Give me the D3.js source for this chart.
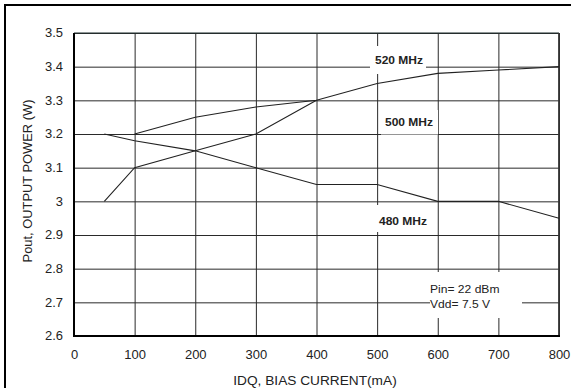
<!DOCTYPE html>
<html>
<head>
<meta charset="utf-8">
<script src="https://cdn.jsdelivr.net/npm/d3@7"></script>
<style>
  html, body { margin: 0; padding: 0; background: #fff; }
  svg { display: block; font-family: "Liberation Sans", Arial, sans-serif; }
</style>
</head>
<body>
<svg id="chart" width="571" height="388"></svg>
<script>
// Bias current (mA) and output power (W) for each frequency curve
const idq520 = [100, 200, 300, 400, 500, 600, 700, 800];
const pout520 = [3.2, 3.25, 3.28, 3.3, 3.35, 3.38, 3.39, 3.4];
const idq500 = [50, 100, 200, 300, 400];
const pout500 = [3.0, 3.1, 3.15, 3.2, 3.3];
const idq480 = [50, 100, 200, 300, 400, 500, 600, 700, 800];
const pout480 = [3.2, 3.18, 3.15, 3.1, 3.05, 3.05, 3.0, 3.0, 2.95];

const xTicks = [0, 100, 200, 300, 400, 500, 600, 700, 800];
const yTicks = [2.6, 2.7, 2.8, 2.9, 3.0, 3.1, 3.2, 3.3, 3.4, 3.5];
const curveLabels = ["520 MHz", "500 MHz", "480 MHz"];
const conditionLabels = ["Pin= 22 dBm", "Vdd= 7.5 V"];
const xTitle = "IDQ, BIAS CURRENT(mA)";
const yTitle = "Pout, OUTPUT POWER (W)";

const svg = d3.select("#chart");
const plot = { left: 74, right: 559, top: 33, bottom: 336 };

const x = d3.scaleLinear().domain([0, 800]).range([plot.left, plot.right]);
const y = d3.scaleLinear().domain([2.6, 3.5]).range([plot.bottom, plot.top]);

// widen glyphs horizontally, like the printed datasheet lettering
function stretch(sel, f) {
  sel.each(function () {
    const w = this.getComputedTextLength();
    this.setAttribute("textLength", w * f);
    this.setAttribute("lengthAdjust", "spacingAndGlyphs");
  });
}

// outer page frame (top and left edges)
svg.append("line").attr("x1", 4).attr("x2", 571).attr("y1", 5).attr("y2", 5)
  .attr("stroke", "#000").attr("stroke-width", 2);
svg.append("line").attr("x1", 5).attr("x2", 5).attr("y1", 4).attr("y2", 388)
  .attr("stroke", "#000").attr("stroke-width", 2);

// grid
const grid = svg.append("g");
grid.append("g").attr("transform", `translate(${plot.left},0)`)
  .call(d3.axisLeft(y).tickValues(yTicks).tickSize(-(plot.right - plot.left)).tickFormat(""))
  .call(g => g.select(".domain").remove())
  .call(g => g.selectAll("line").attr("stroke", "#2a2a2a").attr("stroke-width", 1));
grid.append("g").attr("transform", `translate(0,${plot.bottom})`)
  .call(d3.axisBottom(x).tickValues(xTicks).tickSize(-(plot.bottom - plot.top)).tickFormat(""))
  .call(g => g.select(".domain").remove())
  .call(g => g.selectAll("line").attr("stroke", "#2a2a2a").attr("stroke-width", 1));

// white patches behind the annotations, breaking the grid
const patches = [
  { x0: 370, x1: 426, y0: 46, y1: 74 },
  { x0: 381, x1: 438, y0: 110, y1: 134.5 },
  { x0: 373, x1: 433, y0: 205, y1: 232 },
  { x0: 430, x1: 522, y0: 272, y1: 318 }
];
svg.append("g").selectAll("rect").data(patches).join("rect")
  .attr("x", d => d.x0).attr("y", d => d.y0)
  .attr("width", d => d.x1 - d.x0).attr("height", d => d.y1 - d.y0)
  .attr("fill", "#fff");

// plot frame
svg.append("line").attr("x1", plot.left).attr("x2", plot.right).attr("y1", plot.top).attr("y2", plot.top)
  .attr("stroke", "#1e2e2e").attr("stroke-width", 1.2);
svg.append("line").attr("x1", plot.right).attr("x2", plot.right).attr("y1", plot.top).attr("y2", plot.bottom)
  .attr("stroke", "#333").attr("stroke-width", 1.8);
svg.append("line").attr("x1", plot.left - 1).attr("x2", plot.right + 1).attr("y1", plot.bottom).attr("y2", plot.bottom)
  .attr("stroke", "#000").attr("stroke-width", 2);
svg.append("line").attr("x1", plot.left).attr("x2", plot.left).attr("y1", plot.top).attr("y2", plot.bottom + 1)
  .attr("stroke", "#000").attr("stroke-width", 2);

// curves
const line = d3.line().x(d => x(d[0])).y(d => y(d[1]));
const series = [
  d3.zip(idq520, pout520),
  d3.zip(idq500, pout500),
  d3.zip(idq480, pout480)
];
svg.append("g").selectAll("path").data(series).join("path")
  .attr("d", line).attr("fill", "none")
  .attr("stroke", "#222").attr("stroke-width", 1.1);

// tick labels
const yAxis = svg.append("g").attr("transform", `translate(${plot.left},0)`)
  .call(d3.axisLeft(y).tickValues(yTicks).tickSize(0).tickPadding(11).tickFormat(d => String(d)))
  .call(g => g.select(".domain").remove());
yAxis.selectAll("text").attr("font-size", 12).attr("fill", "#222")
  .attr("font-family", "Liberation Sans, Arial, sans-serif").call(stretch, 1.08);

const xAxis = svg.append("g").attr("transform", `translate(0,${plot.bottom})`)
  .call(d3.axisBottom(x).tickValues(xTicks).tickSize(0).tickPadding(14).tickFormat(d => String(d)))
  .call(g => g.select(".domain").remove());
xAxis.selectAll("text").attr("font-size", 12).attr("fill", "#222")
  .attr("font-family", "Liberation Sans, Arial, sans-serif").call(stretch, 1.08);

// axis titles
svg.append("text").attr("x", (233 + 397) / 2).attr("y", 385)
  .attr("text-anchor", "middle").attr("font-size", 12).attr("fill", "#222")
  .text(xTitle).call(stretch, 1.14);
svg.append("text").attr("transform", "translate(32,181) rotate(-90)")
  .attr("text-anchor", "middle").attr("font-size", 12.5).attr("fill", "#222")
  .text(yTitle).call(stretch, 1.03);

// curve annotations
const labelPos = [[375, 63.5], [385, 125.5], [379, 224.5]];
svg.append("g").selectAll("text").data(curveLabels).join("text")
  .attr("x", (d, i) => labelPos[i][0]).attr("y", (d, i) => labelPos[i][1])
  .attr("font-size", 10).attr("font-weight", "bold").attr("fill", "#222")
  .text(d => d).call(stretch, 1.2);

// test conditions
const condPos = [[430, 292.5], [430, 307.5]];
svg.append("g").selectAll("text").data(conditionLabels).join("text")
  .attr("x", (d, i) => condPos[i][0]).attr("y", (d, i) => condPos[i][1])
  .attr("font-size", 10.5).attr("fill", "#222")
  .text(d => d).call(stretch, 1.15);
</script>
</body>
</html>
